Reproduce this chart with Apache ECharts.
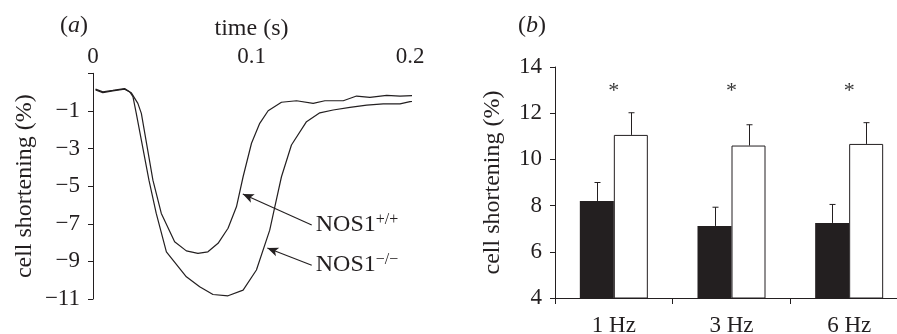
<!DOCTYPE html>
<html>
<head>
<meta charset="utf-8">
<script src="https://cdn.jsdelivr.net/npm/echarts@6/dist/echarts.min.js"></script>
<style>
  html, body { margin: 0; padding: 0; background: #fff; }
  #chart { width: 897px; height: 334px; }
</style>
</head>
<body>
<div id="chart"></div>
<script>
// panel (a): shortening traces, [time (s), shortening (%)]
const nos1WT = [
  [0.0016, 0.11], [0.0062, -0.03], [0.0125, 0.07], [0.0199, 0.16], [0.0241, -0.03],
  [0.0283, -0.60], [0.0305, -1.13], [0.0378, -4.68], [0.0431, -6.45], [0.0515, -7.96],
  [0.0589, -8.44], [0.0662, -8.57], [0.0725, -8.49], [0.0789, -8.04], [0.0852, -7.24],
  [0.0905, -6.10], [0.0947, -4.50], [0.1000, -2.72], [0.1052, -1.66], [0.1105, -0.99],
  [0.1189, -0.54], [0.1284, -0.46], [0.1389, -0.60], [0.1463, -0.46], [0.1579, -0.46],
  [0.1663, -0.21], [0.1747, -0.28], [0.1853, -0.17], [0.1937, -0.21], [0.2063, -0.17]
];
const nos1KO = [
  [0.0016, 0.16], [0.0062, 0.01], [0.0125, 0.09], [0.0199, 0.19], [0.0231, 0.02],
  [0.0252, -0.24], [0.0273, -1.13], [0.0353, -4.68], [0.0399, -6.45], [0.0463, -8.49],
  [0.0589, -9.82], [0.0673, -10.35], [0.0757, -10.76], [0.0852, -10.83], [0.0947, -10.53],
  [0.1031, -9.46], [0.1115, -7.34], [0.1147, -6.10], [0.1189, -4.50], [0.1252, -2.81],
  [0.1347, -1.57], [0.1431, -1.10], [0.1515, -0.95], [0.1621, -0.81], [0.1727, -0.69],
  [0.1831, -0.63], [0.1937, -0.63], [0.2000, -0.51], [0.2063, -0.46]
];
// arrows: [tip, tail]
const arrowWT = [[0.0945, -5.42], [0.138, -7.07]];
const arrowKO = [[0.110, -8.29], [0.138, -9.2]];

// panel (b): mean +/- error
const freqs = ['1 Hz', '3 Hz', '6 Hz'];
const wtMean = [8.2, 7.12, 7.25];
const wtErr = [0.8, 0.81, 0.8];
const koMean = [11.06, 10.6, 10.67];
const koErr = [0.96, 0.9, 0.92];
const starLevel = 12.95;

const ink = '#231f20';
const serif = "'Liberation Serif', 'Times New Roman', serif";
const barW = 34;

const chart = echarts.init(document.getElementById('chart'));

function errBars(mean, err, offset) {
  return {
    type: 'custom',
    xAxisIndex: 1,
    yAxisIndex: 1,
    data: mean.map((m, i) => [i, m, err[i]]),
    renderItem: function (params, api) {
      const i = api.value(0);
      const base = api.coord([i, api.value(1)]);
      const top = api.coord([i, api.value(1) + api.value(2)]);
      const x = Math.round(base[0] + offset) + 0.5;
      const st = { stroke: ink, lineWidth: 1 };
      return {
        type: 'group',
        children: [
          { type: 'line', shape: { x1: x, y1: base[1], x2: x, y2: top[1] }, style: st },
          { type: 'line', shape: { x1: x - 3, y1: top[1], x2: x + 3, y2: top[1] }, style: st }
        ]
      };
    },
    z: 5
  };
}

function supLabel(sup) {
  return {
    show: true,
    position: 'right',
    distance: 4,
    formatter: '{m|NOS1}{s|' + sup + '}',
    rich: {
      m: { fontFamily: serif, fontSize: 24, color: ink, lineHeight: 27 },
      s: { fontFamily: serif, fontSize: 16, color: ink, verticalAlign: 'top', lineHeight: 16 }
    }
  };
}

function curve(data, arrow, sup) {
  return {
    type: 'line',
    xAxisIndex: 0,
    yAxisIndex: 0,
    data: data,
    showSymbol: false,
    symbol: 'none',
    clip: false,
    lineStyle: { color: ink, width: 1.2 },
    silent: true,
    markLine: {
      silent: true,
      symbol: ['arrow', 'none'],
      symbolSize: [7, 11],
      lineStyle: { color: ink, width: 1.1, type: 'solid' },
      label: { show: false },
      data: [[{ coord: arrow[0] }, { coord: arrow[1] }]]
    },
    markPoint: {
      silent: true,
      symbol: 'circle',
      symbolSize: 0,
      label: supLabel(sup),
      data: [{ coord: arrow[1] }]
    }
  };
}

const tickLabel = { fontFamily: serif, fontSize: 23, color: ink };
const nameStyle = { fontFamily: serif, fontSize: 24, color: ink };
const italicTag = letter => ({
  text: '{r|(}{i|' + letter + '}{r|)}',
  rich: {
    r: { fontFamily: serif, fontSize: 24, fill: ink },
    i: { fontFamily: serif, fontSize: 24, fontStyle: 'italic', fill: ink }
  }
});

const option = {
  animation: false,
  backgroundColor: '#fff',
  textStyle: { fontFamily: serif, color: ink },
  grid: [
    { left: 93, top: 73.3, width: 317, height: 225.7, outerBoundsMode: 'none' },
    { left: 555, top: 67, width: 353, height: 231, outerBoundsMode: 'none' }
  ],
  xAxis: [
    {
      type: 'value', gridIndex: 0, position: 'top',
      min: 0, max: 0.2, interval: 0.1,
      name: 'time (s)', nameLocation: 'middle', nameGap: 32,
      nameTextStyle: nameStyle,
      axisLine: { show: false }, axisTick: { show: false }, splitLine: { show: false },
      axisLabel: Object.assign({ margin: 5 }, tickLabel)
    },
    {
      type: 'category', gridIndex: 1, data: freqs,
      axisLine: { lineStyle: { color: ink, width: 1 } },
      axisTick: { show: true, length: 6, lineStyle: { color: ink } },
      axisLabel: Object.assign({ margin: 16 }, tickLabel)
    }
  ],
  yAxis: [
    {
      type: 'value', gridIndex: 0, min: -11, max: 1, interval: 2,
      name: 'cell shortening (%)', nameLocation: 'middle', nameGap: 56,
      nameTextStyle: nameStyle,
      axisLine: { show: true, lineStyle: { color: ink, width: 1 } },
      axisTick: { show: true, length: 5, lineStyle: { color: ink } },
      splitLine: { show: false },
      axisLabel: Object.assign({
        margin: 13,
        formatter: v => (v === 1 ? '' : String(v).replace('-', '\u2212'))
      }, tickLabel)
    },
    {
      type: 'value', gridIndex: 1, min: 4, max: 14, interval: 2,
      name: 'cell shortening (%)', nameLocation: 'middle', nameGap: 50,
      nameTextStyle: nameStyle,
      axisLine: { show: true, lineStyle: { color: ink, width: 1 } },
      axisTick: { show: true, length: 5, lineStyle: { color: ink } },
      splitLine: { show: false },
      axisLabel: Object.assign({ margin: 13 }, tickLabel)
    }
  ],
  graphic: [
    { type: 'text', left: 60, top: 14, style: italicTag('a') },
    { type: 'text', left: 518, top: 14, style: italicTag('b') }
  ],
  series: [
    curve(nos1WT, arrowWT, '+/+'),
    curve(nos1KO, arrowKO, '\u2212/\u2212'),
    {
      type: 'bar', name: 'NOS1+/+', xAxisIndex: 1, yAxisIndex: 1,
      data: wtMean, barWidth: barW, barGap: '0%',
      itemStyle: { color: ink }
    },
    {
      type: 'bar', name: 'NOS1-/-', xAxisIndex: 1, yAxisIndex: 1,
      data: koMean, barWidth: barW, barGap: '0%',
      itemStyle: { color: '#fff', borderColor: ink, borderWidth: 1 }
    },
    errBars(wtMean, wtErr, -barW / 2),
    errBars(koMean, koErr, barW / 2),
    {
      type: 'scatter', xAxisIndex: 1, yAxisIndex: 1,
      data: freqs.map((f, i) => [i, starLevel]),
      symbolSize: 0,
      silent: true,
      label: {
        show: true, position: 'inside', formatter: '*',
        fontFamily: serif, fontSize: 22, color: '#000'
      }
    }
  ]
};

chart.setOption(option);
</script>
</body>
</html>
